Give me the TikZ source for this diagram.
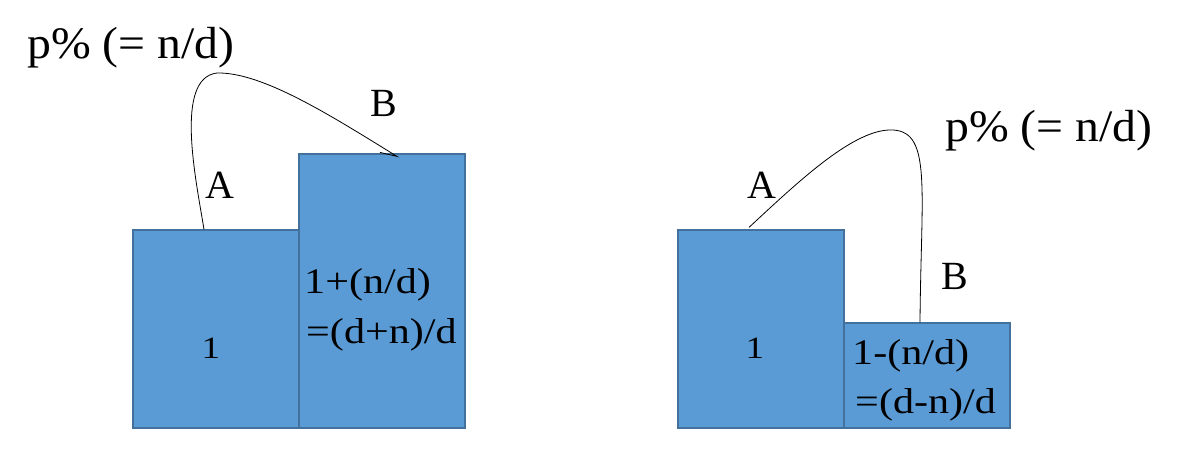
\documentclass[tikz,border=0pt]{standalone}
\usepackage{fontspec}
\setmainfont{Liberation Serif}
\usetikzlibrary{calc}
\definecolor{boxfill}{HTML}{5B9BD5}
\definecolor{boxline}{HTML}{41719C}
\tikzset{
  bar/.style={draw=boxline, fill=boxfill, line width=1.6pt, inner sep=0pt, minimum width=166pt, anchor=south west},
  biglabel/.style={inner sep=0pt, font=\fontsize{45}{49}\selectfont, xscale=1.06, transform shape},
  letter/.style={inner sep=0pt, font=\fontsize{40}{44}\selectfont},
  inner/.style={inner sep=0pt, font=\fontsize{36}{40}\selectfont, xscale=1.17, transform shape, anchor=base west},
  one/.style={inner sep=0pt, font=\fontsize{31}{35}\selectfont, xscale=1.2, transform shape, anchor=base},
  link/.style={draw=black, line width=0.8pt}
}
\begin{document}
\begin{tikzpicture}[x=1pt,y=-1pt]
\useasboundingbox (0,0) rectangle (1190,449);
% left group
\node[bar, minimum height=198pt] (b1) at (132,429) {};
\node[bar, minimum height=274pt] (b2) at (298,429) {};
% right group
\node[bar, minimum height=198pt] (b3) at (677,429) {};
\node[bar, minimum height=105pt] (b4) at (843,429) {};

% texts inside
\node[one] (t1) at (211,358) {1};
\node[inner] (t2a) at (304,293) {1+(n/d)};
\node[inner] (t2b) at (306,343) {=(d+n)/d};
\node[one] (t3) at (755,358) {1};
\node[inner] (t4a) at (852,364) {1-(n/d)};
\node[inner] (t4b) at (855,413) {=(d-n)/d};

% labels
\node[biglabel, anchor=base west] (p1) at (27,59) {p\% (= n/d)};
\node[biglabel, anchor=base west] (p2) at (945,142) {p\% (= n/d)};
\node[letter, anchor=base] (A1) at (220,198) {A};
\node[letter, anchor=base] (B1) at (384,117) {B};
\node[letter, anchor=base] (A2) at (762,198) {A};
\node[letter, anchor=base] (B2) at (955,289) {B};

% connectors
\coordinate (s1) at ($(b1.north west)+(72,0)$);
\coordinate (e1) at ($(b2.north west)+(99,3)$);
\coordinate (h1) at ($(b2.north west)+(82,-1)$);
\draw[link] (s1) .. controls (196,180) and (174,78) .. (217,73)
  .. controls (262,72) and (330,115) .. (e1) -- (h1);
\coordinate (s2) at ($(b3.north west)+(72,-2)$);
\coordinate (e2) at ($(b4.north west)+(77,0)$);
\draw[link] (s2) .. controls (800,180) and (855,128) .. (893,130)
  .. controls (932,132) and (921,190) .. (e2);
\end{tikzpicture}
\end{document}
